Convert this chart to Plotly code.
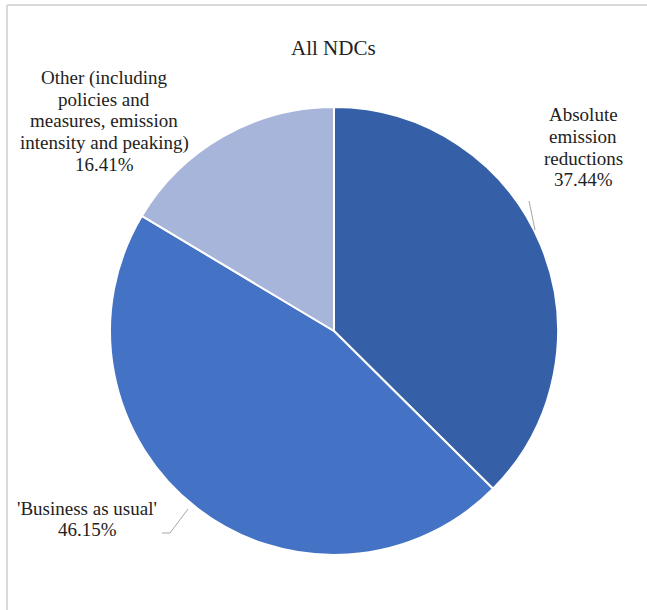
import plotly.graph_objects as go

# Share of NDC mitigation target types
labels = ["Absolute emission reductions", "'Business as usual'",
          "Other (including policies and measures, emission intensity and peaking)"]
label_lines = [["Absolute", "emission", "reductions"],
               ["'Business as usual'"],
               ["Other (including", "policies and", "measures, emission",
                "intensity and peaking)"]]
shares = [37.44, 46.15, 16.41]
colors = ["#3560a8", "#4472c4", "#a7b5db"]

W, H = 647, 610
FONT = "Liberation Serif"
LINE_GAP = 21.5


def px(x):
    return x / W


def py(y):
    return 1 - y / H


fig = go.Figure(go.Pie(
    labels=labels,
    values=shares,
    sort=False,
    direction="clockwise",
    rotation=0,
    marker=dict(colors=colors, line=dict(color="white", width=2)),
    textinfo="none",
    hoverinfo="label+percent",
    domain=dict(x=[px(110), px(558)], y=[py(555), py(107)]),
    showlegend=False,
))

# label placement: block centre x and first-line centre y, in pixels
label_pos = [(583, 115), (87, 508), (104, 78)]
annotations = [
    dict(text="All NDCs", x=px(333), y=py(34), xref="paper", yref="paper",
         showarrow=False, font=dict(family=FONT, size=21, color="#222"))
]
for lines, val, (lx, ly) in zip(label_lines, shares, label_pos):
    for i, line in enumerate(lines + [f"{val:.2f}%"]):
        annotations.append(dict(
            text=line, x=px(lx), y=py(ly + i * LINE_GAP),
            xref="paper", yref="paper", showarrow=False,
            xanchor="center", yanchor="middle",
            font=dict(family=FONT, size=19, color="#222"),
        ))

shapes = [
    # frame (top and left edges)
    dict(type="line", xref="paper", yref="paper", x0=px(7), x1=1, y0=py(5), y1=py(5),
         line=dict(color="#d9d9d9", width=2)),
    dict(type="line", xref="paper", yref="paper", x0=px(7), x1=px(7), y0=py(5), y1=0,
         line=dict(color="#d9d9d9", width=2)),
    # leader lines
    dict(type="path", xref="paper", yref="paper",
         path=f"M {px(529)} {py(201)} L {px(535)} {py(230)}",
         line=dict(color="#a6a6a6", width=1)),
    dict(type="path", xref="paper", yref="paper",
         path=f"M {px(162)} {py(533)} L {px(170)} {py(533)} L {px(188)} {py(509)}",
         line=dict(color="#a6a6a6", width=1)),
]

fig.update_layout(
    width=W, height=H,
    margin=dict(l=0, r=0, t=0, b=0),
    font=dict(family=FONT, color="#222"),
    paper_bgcolor="white",
    plot_bgcolor="white",
    annotations=annotations,
    shapes=shapes,
)

fig.write_html("out.html")
